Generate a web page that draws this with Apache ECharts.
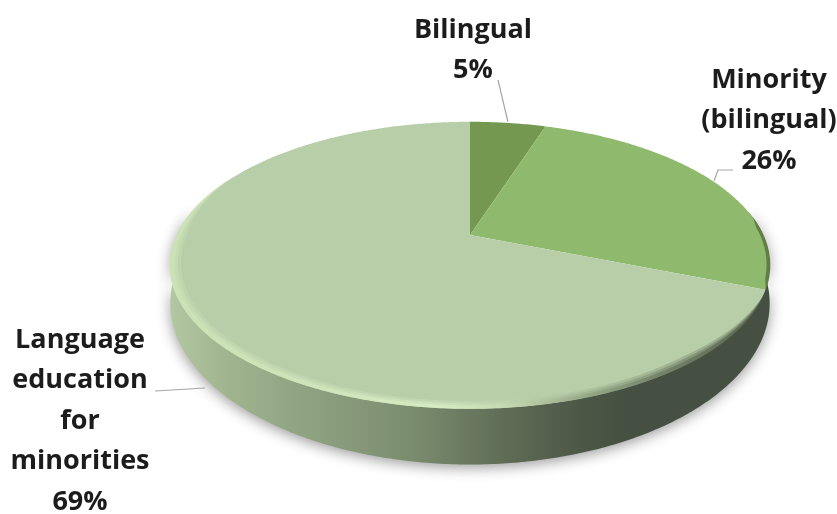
<!DOCTYPE html>
<html>
<head>
<meta charset="utf-8">
<style>html,body{margin:0;padding:0;background:#fff}#chart{width:837px;height:514px}</style>
<script src="https://cdn.jsdelivr.net/npm/echarts@6/dist/echarts.min.js"></script>
</head>
<body>
<div id="chart"></div>
<script>
// Shares of programme types, clockwise from twelve o'clock
const categories = ['Bilingual', 'Minority\n(bilingual)', 'Language\neducation\nfor\nminorities'];
const shares = [5, 26, 69];
const sliceColors = ['#749850', '#8fb96c', '#b8cea9'];

// Tilted-disc projection: near edge larger than far edge
const CX = 470, CY = 235, AX = 293, AY = 137, TILT = 0.21, DEPTH = 35;
const TOTAL = shares.reduce((a, b) => a + b, 0);
const toAngle = s => s / TOTAL * Math.PI * 2;
const rad = d => d * Math.PI / 180;

function project(theta, inset) {
  const k = inset === undefined ? 1 : inset;
  const w = 1 + TILT * Math.cos(theta) * k;
  return [CX + AX * k * Math.sin(theta) / w, CY - AY * k * Math.cos(theta) / w];
}
function projectBase(theta) {
  const p = project(theta);
  const w = 1 + TILT * Math.cos(theta);
  return [p[0], p[1] + DEPTH / (w * w)];
}
function arc(from, to, fn, inset) {
  const n = Math.max(2, Math.ceil(Math.abs(to - from) / 0.01));
  const pts = [];
  for (let i = 0; i <= n; i++) pts.push(fn(from + (to - from) * i / n, inset));
  return pts;
}
const hGrad = stops => ({
  type: 'linear', global: true, x: 170, y: 0, x2: 770, y2: 0,
  colorStops: stops.map(s => ({ offset: s[0], color: s[1] }))
});

// Crescent hugging the disc edge, tapering to nothing at both ends
function crescent(from, to, width, fill, opacity) {
  const n = Math.ceil(Math.abs(to - from) / 0.01);
  const outer = [], inner = [];
  for (let i = 0; i <= n; i++) {
    const t = i / n, th = from + (to - from) * t;
    const taper = Math.min(1, Math.sin(Math.PI * t) * 2.2);
    outer.push(project(th, 1.002));
    inner.push(project(th, 1.002 - width * taper));
  }
  return {
    type: 'polygon', silent: true,
    shape: { points: outer.concat(inner.reverse()) },
    style: { fill, opacity }
  };
}

function renderBody() {
  const from = rad(80), to = rad(280);
  const band = arc(from, to, project).concat(arc(to, from, projectBase));
  return {
    type: 'polygon', silent: true,
    shape: { points: band },
    style: {
      fill: hGrad([[0, '#b3c8a2'], [0.1, '#9fb48e'], [0.22, '#90a382'], [0.4, '#7b8d6f'],
                   [0.55, '#606e57'], [0.68, '#4d5847'], [0.76, '#465042'], [1, '#465042']]),
      shadowBlur: 14, shadowColor: 'rgba(0,0,0,0.4)', shadowOffsetY: 3
    }
  };
}

function renderSlice(params, api) {
  const i = params.dataIndex;
  const before = shares.slice(0, i).reduce((a, b) => a + b, 0);
  const start = toAngle(before), end = toAngle(before + api.value(0));
  const pts = [[CX, CY]].concat(arc(start, end, project));
  return { type: 'polygon', silent: true, shape: { points: pts }, style: { fill: sliceColors[i] } };
}

function renderRim() {
  const stops = [[0, '#cde3b6'], [0.2, '#d0e5ba'], [0.45, '#d8edc2'], [0.56, '#c6dab2'],
                 [0.68, '#98aa88'], [0.82, '#6e7c63'], [1, '#505c48']];
  const from = rad(113), to = rad(298);
  return {
    type: 'group', silent: true,
    children: [
      crescent(from, to, 0.036, hGrad(stops), 0.3),
      crescent(from, to, 0.026, hGrad(stops), 0.45),
      crescent(from, to, 0.016, hGrad(stops), 0.8),
      crescent(rad(82), rad(112), 0.012, '#55703c', 0.8)
    ]
  };
}

// Text anchor and leader line for each slice label
const labelAnchors = [[473, 10], [769, 60], [80, 320]];
const leaders = [
  [[498, 80], [508, 122]],
  [[733, 170], [718, 170], [714, 181]],
  [[155, 391], [205, 388]]
];
function renderLabel(params, api) {
  const i = params.dataIndex;
  return {
    type: 'group', silent: true,
    children: [
      { type: 'polyline', shape: { points: leaders[i] },
        style: { fill: null, stroke: '#a6a6a6', lineWidth: 1.2 } },
      { type: 'text', x: labelAnchors[i][0], y: labelAnchors[i][1],
        style: {
          text: categories[i] + '\n' + api.value(0) + '%',
          fontFamily: '"Open Sans"', fontWeight: 700, fontSize: 27, lineHeight: 40.5,
          fill: '#1c1c1c', align: 'center', verticalAlign: 'top'
        } }
    ]
  };
}

const chart = echarts.init(document.getElementById('chart'), null, { renderer: 'canvas' });
const base = { type: 'custom', coordinateSystem: 'none', animation: false, silent: true };
chart.setOption({
  animation: false,
  backgroundColor: '#ffffff',
  series: [
    Object.assign({}, base, { name: 'body', z: 1, data: [[TOTAL]], renderItem: renderBody }),
    Object.assign({}, base, { name: 'slices', z: 2, data: shares.map(v => [v]), renderItem: renderSlice }),
    Object.assign({}, base, { name: 'rim', z: 3, data: [[TOTAL]], renderItem: renderRim }),
    Object.assign({}, base, { name: 'labels', z: 4, data: shares.map(v => [v]), renderItem: renderLabel })
  ]
});
</script>
</body>
</html>
